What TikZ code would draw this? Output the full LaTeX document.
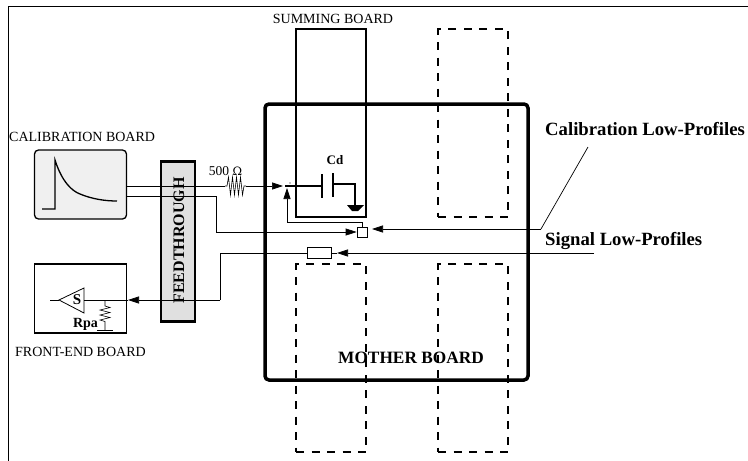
\documentclass[tikz,border=0pt]{standalone}
\usepackage{fontspec}
\setmainfont{Liberation Serif}
\usetikzlibrary{arrows.meta}
\tikzset{
  thin line/.style={line width=.7pt},
  tip/.style={-{Triangle[length=11pt,width=7pt]}},
  dashbox/.style={draw,line width=1.6pt,dash pattern=on 8pt off 7.5pt,minimum width=70pt,minimum height=188pt,inner sep=0pt},
  plain/.style={font=\fontsize{14}{16}\selectfont,inner sep=0pt},
  bold/.style={font=\fontsize{14}{16}\selectfont\bfseries,inner sep=0pt},
  big/.style={font=\fontsize{18.7}{20}\selectfont\bfseries,inner sep=0pt},
}
\begin{document}
\begin{tikzpicture}[x=1pt,y=-1pt]
\useasboundingbox (0,0) rectangle (748,461);
\fill[white] (0,0) rectangle (748,461);
\draw[line width=.8pt] (8,461) -- (8,6) -- (748,6);
% boards
\node[draw,line width=1.6pt,minimum width=70pt,minimum height=188pt,inner sep=0pt] (summing) at (331,123) {};
\node[dashbox] (d1) at (473,123) {};
\node[dashbox] (d2) at (331,358) {};
\node[dashbox] (d3) at (473,358) {};
\node[draw,line width=3.5pt,rounded corners=4pt,minimum width=263pt,minimum height=276pt,inner sep=0pt] (mother) at (396.5,242) {};
\node[draw,fill=black!6,line width=1.3pt,rounded corners=4pt,minimum width=92pt,minimum height=69pt,inner sep=0pt] (cal) at (80.5,184.5) {};
\node[draw,line width=1.4pt,minimum width=92pt,minimum height=69pt,inner sep=0pt] (fe) at (80.5,298.5) {};
\node[draw,fill=black!12,line width=2.6pt,minimum width=34pt,minimum height=160pt,inner sep=0pt] (ft) at (178,241.5) {};
% pulse
\draw[line width=1.3pt] (42,209) -- (55,209) -- (55,160) .. controls (62,182) and (72,191) .. (80,194) .. controls (92,199) and (105,201) .. (117,201);
% labels
\node[plain,anchor=west] at (9,137) {CALIBRATION BOARD};
\node[plain,anchor=west] at (15,352) {FRONT-END BOARD};
\node[plain] at (333,19) {SUMMING BOARD};
\node[plain,font=\fontsize{13.5}{16}\selectfont] at (225.5,171) {500 \fontspec{DejaVu Serif}\fontsize{11.5}{16}\selectfont Ω};
\node[bold,font=\fontsize{13}{16}\selectfont\bfseries] at (335,160) {Cd};
\node[bold] at (85.5,324) {Rpa};
\node[bold,font=\fontsize{17.3}{20}\selectfont\bfseries] at (411,358) {MOTHER BOARD};
\node[big,anchor=west] at (545,129) {Calibration Low-Profiles};
\node[big,anchor=west] at (545,241) {Signal Low-Profiles};
% small boxes
\node[draw,fill=white,line width=.7pt,minimum width=10pt,minimum height=10pt,inner sep=0pt] (lpc) at (362,232) {};
\node[draw,fill=white,line width=.7pt,minimum width=24pt,minimum height=11pt,inner sep=0pt] (lps) at (319,253) {};
\coordinate (calA) at (127,186);
\coordinate (calB) at (127,196);
\coordinate (rL) at (225,186);
\coordinate (rR) at (246,186);
\coordinate (junc) at (283,186);
\coordinate (capL) at (322,186);
% calibration lines
\draw[thin line] (calA) -- (rL);
\draw[line width=.6pt] (rL) -- ++(2,0) -- ++(1.5,-9) -- ++(2,18) -- ++(2,-18) -- ++(2,18) -- ++(2,-18) -- ++(2,18) -- ++(2,-18) -- ++(2,18) -- ++(1.5,-9) -- (rR);
\draw[thin line,tip] (rR) -- (junc);
\draw[thin line,tip] (calB) -- (216,196) -- (216,232) -- (lpc.west);
\draw[line width=1.3pt] (285,186) -- (capL);
\fill (290,183) circle (.6pt);
\draw[line width=1.3pt] (capL) ++(0,-12) -- ++(0,24);
\draw[line width=1.3pt] (333,173) -- (333,197);
\draw[line width=1.3pt] (333,184) -- (355,184) -- (355,205);
\fill (347,205) -- (364,205) -- (358,211) -- (352,211) -- cycle;
\draw[thin line,tip] (lpc.north) -- (362,222) -- (287,222) -- (287,188);
% right connectors
\coordinate (cl) at (588,147);
\coordinate (clb) at (541,229);
\draw[thin line,tip] (clb) -- (372,229);
\draw[thin line] (clb) -- (cl);
\coordinate (sl) at (594,253);
\draw[thin line,tip] (sl) -- (337,253);
\draw[thin line] (337,253) -- (lps.east);
\coordinate (amp) at (84,300);
\draw[thin line] (lps.west) -- (220,253) -- (220,300);
\draw[thin line,tip] (220,300) -- (128,300);
\draw[thin line] (128,300) -- (amp);
% amplifier
\draw[line width=.8pt] (59,300) -- (84,288) -- (84,313) -- cycle;
\draw[thin line] (50,300) -- (59,300);
\node[bold,font=\fontsize{15}{16}\selectfont\bfseries] at (77,300) {S};
\coordinate (ra) at (105,300);
\draw[line width=.6pt] (ra) -- (105,306) -- ++(5,1.5) -- ++(-10,2.5) -- ++(10,2.5) -- ++(-10,2.5) -- ++(10,2.5) -- ++(-10,2.5) -- ++(5,1.5) -- (105,330);
\draw[line width=.8pt] (97,330) -- (113,330);
\draw[line width=.8pt] (102,333) -- (108,333);
\node[rotate=90,bold,font=\fontsize{16}{18}\selectfont\bfseries] at (179,240.5) {FEEDTHROUGH};
\end{tikzpicture}
\end{document}
